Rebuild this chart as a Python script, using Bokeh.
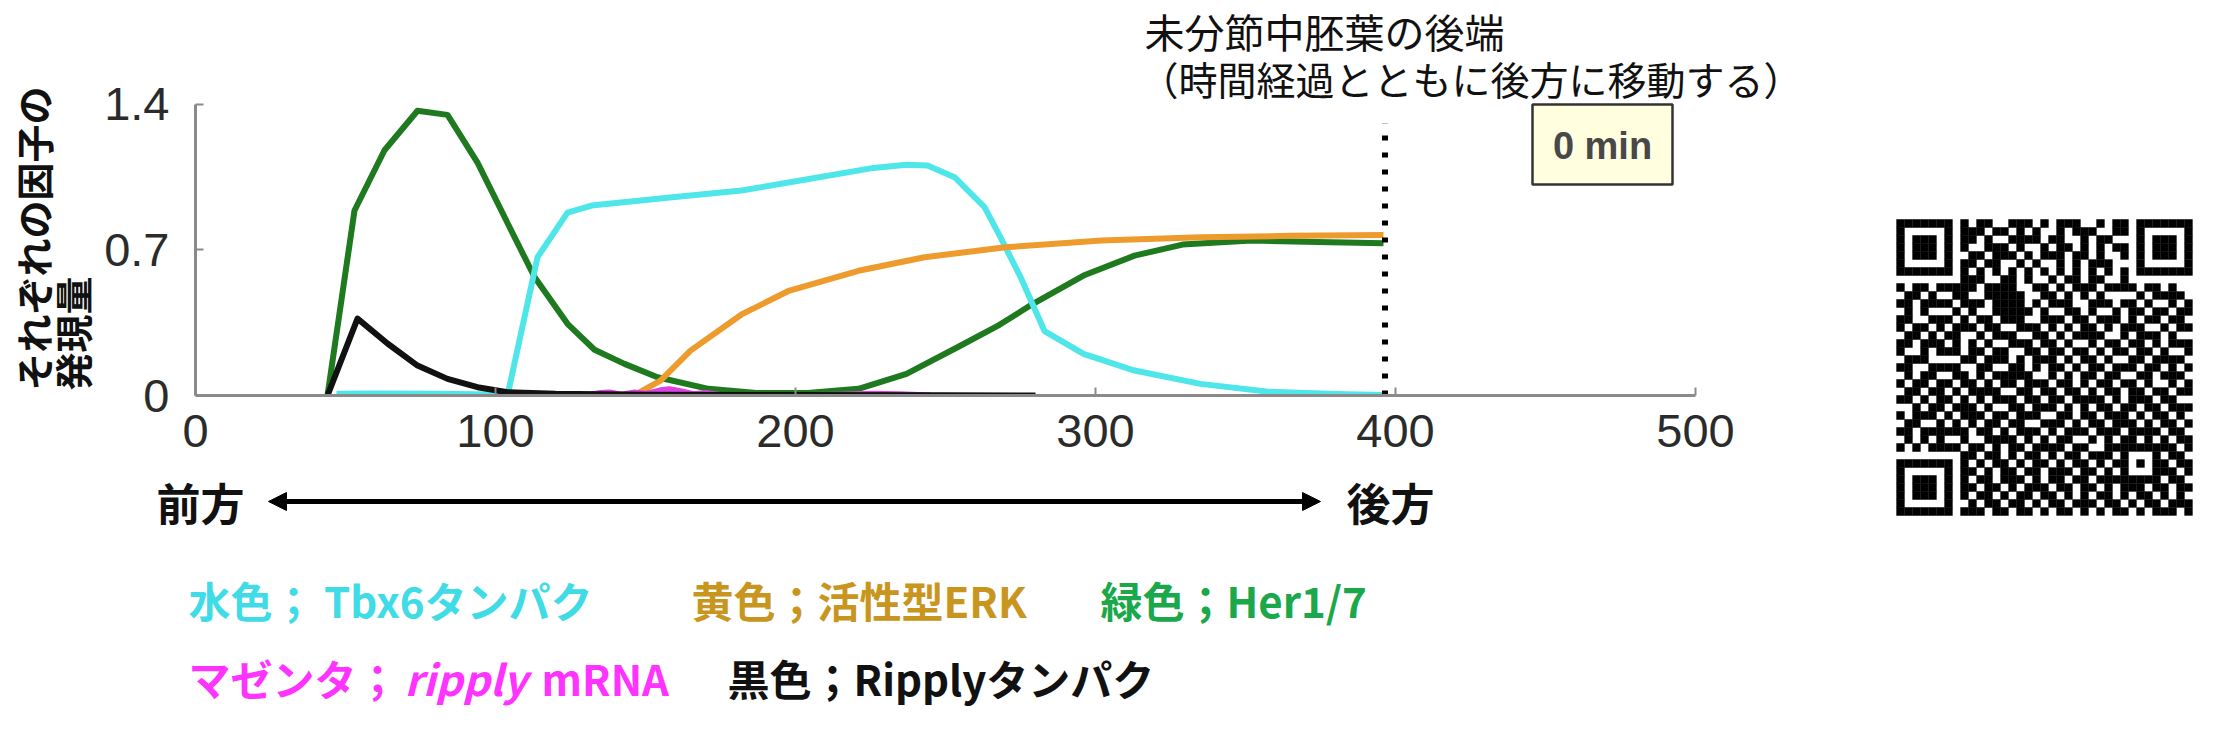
import math
from bokeh.plotting import figure
from bokeh.models import Range1d, FixedTicker, Label, BoxAnnotation, Arrow, NormalHead
from bokeh.layouts import row, column
from bokeh.embed import file_html
from bokeh.resources import INLINE

# ---------------- data ----------------
x_ticks = [0, 100, 200, 300, 400, 500]
y_ticks = [0, 0.7, 1.4]
y_tick_labels = {0: "0", 0.7: "0.7", 1.4: "1.4"}

her_x = [44, 53, 63, 74, 84, 94, 104, 113, 124, 133, 143, 154, 171, 187, 204, 221, 237, 254, 268, 279, 296, 313, 329, 352, 374, 396]
her_y = [0, 0.89, 1.18, 1.37, 1.35, 1.12, 0.83, 0.57, 0.345, 0.22, 0.152, 0.088, 0.032, 0.012, 0.012, 0.032, 0.104, 0.232, 0.34, 0.44, 0.577, 0.673, 0.726, 0.746, 0.738, 0.733]

tbx6_x = [47, 60, 80, 100, 104, 114, 124, 132, 159, 182, 204, 226, 237, 244, 253, 263, 268, 275, 283, 296, 313, 335, 357, 380, 396]
tbx6_y = [0.008, 0.01, 0.008, 0.005, 0.0, 0.665, 0.88, 0.914, 0.954, 0.986, 1.04, 1.095, 1.11, 1.107, 1.05, 0.906, 0.77, 0.57, 0.31, 0.2, 0.12, 0.056, 0.019, 0.007, 0.003]

erk_x = [146, 155, 165, 182, 198, 221, 243, 270, 302, 335, 365, 396]
erk_y = [0.0, 0.072, 0.216, 0.39, 0.505, 0.60, 0.665, 0.713, 0.746, 0.761, 0.768, 0.772]

mrna_x = [130, 135, 138, 142, 146, 150, 155, 158, 162, 166, 170, 175, 180, 190, 215, 225, 235, 245]
mrna_y = [0.0, 0.012, 0.015, 0.004, 0.014, 0.008, 0.025, 0.03, 0.02, 0.006, 0.012, 0.003, 0.0, 0.0, 0.004, 0.008, 0.006, 0.0]

ripply_x = [44, 54, 64, 74, 84, 94, 104, 120, 150, 200, 250, 280]
ripply_y = [0.0, 0.37, 0.25, 0.144, 0.08, 0.04, 0.016, 0.008, 0.004, 0.002, 0.001, 0.0]

boundary_x = [396.5]
boundary_top = [1.31]

# QR code bitmap (37 x 37); finder / timing / alignment patterns re-drawn in code
qr_rows = [
    "1111111010110011101011100101101111111",
    "1000001011101101010010111001101000001",
    "1011101011010011110110010110001011101",
    "1011101010011101001011010101101011101",
    "1011101001101110101110110100101011101",
    "1000001011011001010010101110001000001",
    "1111111010101010101010101010101111111",
    "0000000011100110100101101100100000000",
    "1011011111011110011010111011110110100",
    "0110100110011111001101010100001011110",
    "1101110011101111010111001110110100101",
    "0101001101001111101001101001011011011",
    "1100111010110111001110110111010110110",
    "1011010111011001110101011010111001011",
    "0110101100101110011010111100101110100",
    "1101110101010011101101001011011010111",
    "1001011101101100110110110101101101001",
    "0111001011011101011101011010011011110",
    "1100111100110011010110101101110110101",
    "0101100110101111100101011011001101110",
    "1011011011010110111011010110110100101",
    "0110110101111001101101101011011011011",
    "1101011010101110110110111101011101100",
    "0010110111010011011101010110110110111",
    "1011101011101101110011011011101011010",
    "0110011101011011001110101101110101101",
    "1101110110110101110101110111011110110",
    "0101011010011110101011001010110101011",
    "1010110101101011011110110011111101101",
    "0000000011011010110101101110100010110",
    "1111111010101101011010110101101011011",
    "1000001011010110110111011010101101101",
    "1011101010110111010110110111010110110",
    "1011101011011010111011011010111011011",
    "1011101010110101101101010110101101010",
    "1000001001011011010110111011010110111",
    "1111111011101101101011010101101011101",
]

# ---------------- page geometry ----------------
W = 2220
H = 736
LEFT_W = 100          # left strip (vertical y label)
MAIN_R = 1840         # right edge of main plot / bottom strip
TOP_H = 468           # height of upper row
BOT_H = H - TOP_H     # lower strip (arrow + legend)
FRAME_L = 195         # page x of data x = 0
FRAME_B = 395         # page y of data y = 0
XS = 3.0              # px per x unit
YS = 207.86           # px per y unit


def dx(X):
    return (X - FRAME_L) / XS


def dy(Y):
    return (FRAME_B - Y) / YS


def no_align(fig):
    try:
        fig.frame_align = False
    except Exception:
        pass


JP = "Noto Sans CJK JP"
TICKFONT = "Liberation Sans"


def blank(width, height, x0, y0):
    f = figure(width=width, height=height, x_range=Range1d(x0, x0 + width),
               y_range=Range1d(y0 + height, y0), min_border=0,
               output_backend="svg", toolbar_location=None,
               x_axis_location=None, y_axis_location=None,
               outline_line_color=None, background_fill_color="white",
               border_fill_color="white")
    f.grid.visible = False
    no_align(f)
    return f


# ---------------- left strip: y axis title ----------------
left = blank(LEFT_W, TOP_H, 0, 0)
left.add_layout(Label(x=32, y=390, text="それぞれの因子の", angle=math.pi / 2,
                      text_align="left", text_baseline="middle", text_font=JP,
                      text_font_size="38px", text_font_style="bold", text_color="#111111"))
left.add_layout(Label(x=71, y=390, text="発現量", angle=math.pi / 2,
                      text_align="left", text_baseline="middle", text_font=JP,
                      text_font_size="38px", text_font_style="bold", text_color="#111111"))

# ---------------- main plot ----------------
frame_w = MAIN_R - FRAME_L
p = figure(frame_width=frame_w, frame_height=FRAME_B,
           min_border_left=FRAME_L - LEFT_W, min_border_right=0,
           min_border_top=0, min_border_bottom=TOP_H - FRAME_B,
           x_range=Range1d(0, frame_w / XS), y_range=Range1d(0, FRAME_B / YS),
           output_backend="svg", toolbar_location=None,
           background_fill_color="white", border_fill_color="white",
           outline_line_color=None)
p.grid.visible = False
no_align(p)

for ax in (p.xaxis[0], p.yaxis[0]):
    ax.axis_line_color = "#8a8a8a"
    ax.axis_line_width = 3
    ax.major_tick_line_color = "#8a8a8a"
    ax.major_tick_line_width = 2
    ax.major_tick_in = 8
    ax.major_tick_out = 0
    ax.minor_tick_line_color = None
    ax.major_label_text_font = TICKFONT
    ax.major_label_text_font_size = "47px"
    ax.major_label_text_color = "#2b2b2b"

p.xaxis.ticker = FixedTicker(ticks=x_ticks)
p.yaxis.ticker = FixedTicker(ticks=y_ticks)
p.xaxis.bounds = (x_ticks[0], x_ticks[-1])
p.yaxis.bounds = (y_ticks[0], y_ticks[-1])
p.yaxis.major_label_overrides = y_tick_labels
p.xaxis.major_label_standoff = 19
p.yaxis.major_label_standoff = 26

LW = 6
p.line(her_x, her_y, line_color="#1f7a1f", line_width=LW, line_join="round")
p.line(tbx6_x, tbx6_y, line_color="#4fe6ea", line_width=LW, line_join="round")
p.line(erk_x, erk_y, line_color="#ee9b2e", line_width=LW, line_join="round")
p.line(mrna_x, mrna_y, line_color="#e040e0", line_width=LW, line_join="round")
p.line(ripply_x, ripply_y, line_color="#111111", line_width=LW, line_join="round")

p.segment(x0=boundary_x, y0=[0] * len(boundary_x), x1=boundary_x, y1=boundary_top,
          line_color="black", line_width=6, line_dash="5 12", line_cap="butt")

# "0 min" box
p.add_layout(BoxAnnotation(left=dx(1532), right=dx(1672), top=dy(104), bottom=dy(184),
                           fill_color="#ffffe0", fill_alpha=1.0,
                           line_color="#333333", line_width=2.5, line_alpha=1.0))
p.add_layout(Label(x=dx(1602), y=dy(145), text="0 min", text_align="center",
                   text_baseline="middle", text_font="Liberation Sans",
                   text_font_size="38px", text_font_style="bold", text_color="#484848"))

# annotation above the boundary line
p.add_layout(Label(x=dx(1144), y=dy(30), text="未分節中胚葉の後端", text_align="left",
                   text_baseline="middle", text_font=JP, text_font_size="40px",
                   text_color="#111111"))
p.add_layout(Label(x=dx(1139), y=dy(77), text="（時間経過とともに後方に移動する）",
                   text_align="left", text_baseline="middle", text_font=JP,
                   text_font_size="39px", text_color="#111111"))

# ---------------- bottom strip: arrow and legend ----------------
bot = blank(MAIN_R, BOT_H, 0, TOP_H)


def blabel(X, Y, txt, color, size="42px", style="bold"):
    bot.add_layout(Label(x=X, y=Y, text=txt, text_align="left", text_baseline="middle",
                         text_font=JP, text_font_size=size, text_font_style=style,
                         text_color=color))


blabel(156, 501, "前方", "#111111", size="44px")
blabel(1346, 501, "後方", "#111111", size="44px")
bot.add_layout(Arrow(x_start=268, y_start=501, x_end=1320, y_end=501,
                     line_width=5, line_color="black",
                     start=NormalHead(size=18, fill_color="black", line_color="black"),
                     end=NormalHead(size=18, fill_color="black", line_color="black")))

blabel(188, 599, "水色； Tbx6タンパク", "#3fdbe6")
blabel(691, 599, "黄色；活性型ERK", "#c8961e")
blabel(1100, 599, "緑色；Her1/7", "#1aa84a")
blabel(188, 677, "マゼンタ；", "#ff33ff")
blabel(404, 677, "ripply", "#ff33ff", style="bold italic")
blabel(541, 677, "mRNA", "#ff33ff")
blabel(727, 677, "黒色；Ripplyタンパク", "#111111")

# ---------------- right strip: QR code (37 modules of 8 px) ----------------
qr = blank(W - MAIN_R, H, MAIN_R, 0)
N = 37
grid = [[1 if (c < len(r) and r[c] == "1") else 0 for c in range(N)] for r in qr_rows]


def finder(r0, c0):
    for r in range(-1, 8):
        for c in range(-1, 8):
            rr, cc = r0 + r, c0 + c
            if 0 <= rr < N and 0 <= cc < N:
                if 0 <= r <= 6 and 0 <= c <= 6:
                    ring = max(abs(r - 3), abs(c - 3))
                    grid[rr][cc] = 0 if ring == 2 else 1
                else:
                    grid[rr][cc] = 0


finder(0, 0)
finder(0, N - 7)
finder(N - 7, 0)
for i in range(8, N - 8):
    grid[6][i] = 1 if i % 2 == 0 else 0
    grid[i][6] = 1 if i % 2 == 0 else 0
for r in range(-2, 3):
    for c in range(-2, 3):
        grid[30 + r][30 + c] = 0 if max(abs(r), abs(c)) == 1 else 1
grid[29][8] = 1

QR_X, QR_Y, MOD = 1896, 219, 8
qx, qy = [], []
for r in range(N):
    for c in range(N):
        if grid[r][c]:
            qx.append(QR_X + MOD * c + MOD / 2)
            qy.append(QR_Y + MOD * r + MOD / 2)
qr.rect(x=qx, y=qy, width=MOD * 1.04, height=MOD * 1.04,
        fill_color="black", line_color=None)

layout = row(column(row(left, p, spacing=0), bot, spacing=0), qr, spacing=0)
open("out.html", "w").write(file_html(layout, INLINE))
